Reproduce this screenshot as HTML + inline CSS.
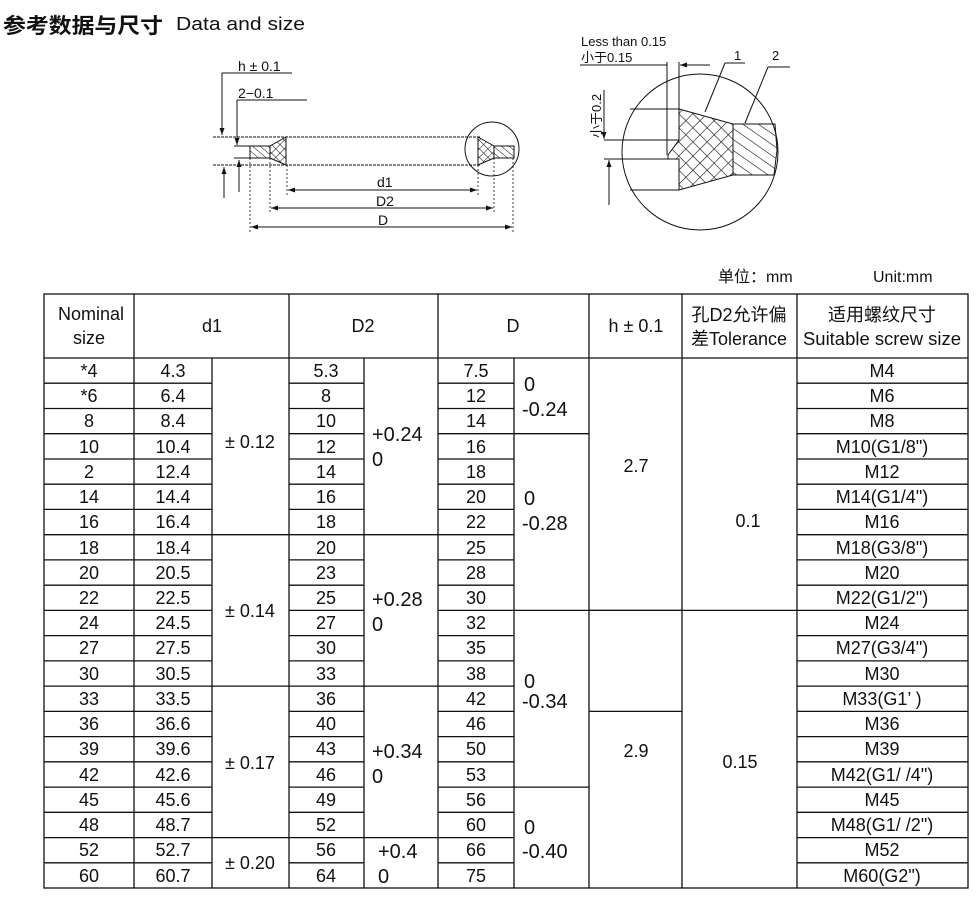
<!DOCTYPE html>
<html><head><meta charset="utf-8"><style>
body{margin:0;background:#fff}
svg{display:block}
text{font-family:"Liberation Sans","Noto Sans CJK SC",sans-serif;fill:#111}
</style></head><body>
<svg width="980" height="904" viewBox="0 0 980 904" xmlns="http://www.w3.org/2000/svg">
<defs>
<pattern id="hat" width="5" height="5" patternUnits="userSpaceOnUse" patternTransform="rotate(-50)"><line x1="0" y1="0" x2="0" y2="5" stroke="#111" stroke-width="1"/></pattern>
<pattern id="xh" width="6" height="6" patternUnits="userSpaceOnUse" patternTransform="rotate(45)"><path d="M0 0H6M0 0V6" stroke="#111" stroke-width="1" fill="none"/></pattern>
<pattern id="hat2" width="9" height="9" patternUnits="userSpaceOnUse" patternTransform="rotate(-55)"><line x1="0" y1="0" x2="0" y2="9" stroke="#111" stroke-width="1.2"/></pattern>
<pattern id="xh2" width="10" height="10" patternUnits="userSpaceOnUse" patternTransform="rotate(45)"><path d="M0 0H10M0 0V10" stroke="#111" stroke-width="1.2" fill="none"/></pattern>
<marker id="ar" markerWidth="8" markerHeight="8" refX="7" refY="4" orient="auto" markerUnits="userSpaceOnUse"><path d="M0 1.5L7 4L0 6.5z" fill="#111"/></marker>
</defs>

<text x="3" y="33" font-size="21" font-weight="bold" textLength="160" lengthAdjust="spacingAndGlyphs">参考数据与尺寸</text>
<text x="176" y="30" font-size="18" textLength="129" lengthAdjust="spacingAndGlyphs">Data and size</text>

<!-- left drawing -->
<g stroke="#111" stroke-width="1" fill="none">
<line x1="222" y1="73" x2="292" y2="73"/>
<line x1="222" y1="73" x2="222" y2="135" marker-end="url(#ar)"/>
<line x1="237" y1="100" x2="307" y2="100"/>
<line x1="237" y1="100" x2="237" y2="145" marker-end="url(#ar)"/>
<line x1="213" y1="137" x2="480" y2="137" stroke-dasharray="3 1"/>
<line x1="213" y1="165" x2="480" y2="165" stroke-dasharray="3 1"/>
<line x1="234" y1="146" x2="250" y2="146"/>
<line x1="234" y1="158" x2="250" y2="158"/>
<line x1="224" y1="198" x2="224" y2="167" marker-end="url(#ar)"/>
<line x1="239" y1="192" x2="239" y2="160" marker-end="url(#ar)"/>
<circle cx="492" cy="149" r="27"/>
</g>
<rect x="250" y="146" width="20" height="12" fill="url(#hat)" stroke="#111"/>
<path d="M270 146L286 137V165L270 158Z" fill="url(#xh)" stroke="#111"/>
<path d="M478 137L494 146V158L478 165Z" fill="url(#xh)" stroke="#111"/>
<rect x="494" y="146" width="20" height="12" fill="url(#hat)" stroke="#111"/>
<g stroke="#111" stroke-width="0.8" stroke-dasharray="2 2" fill="none">
<line x1="287" y1="165" x2="287" y2="195"/><line x1="478" y1="165" x2="478" y2="195"/>
<line x1="270" y1="158" x2="270" y2="213"/><line x1="494" y1="158" x2="494" y2="213"/>
<line x1="250" y1="158" x2="250" y2="232"/><line x1="513" y1="158" x2="513" y2="232"/>
</g>
<g stroke="#111" stroke-width="1" fill="none">
<line x1="300" y1="190" x2="288" y2="190" marker-end="url(#ar)"/><line x1="290" y1="190" x2="477" y2="190" marker-end="url(#ar)"/>
<line x1="290" y1="208" x2="271" y2="208" marker-end="url(#ar)"/><line x1="272" y1="208" x2="493" y2="208" marker-end="url(#ar)"/>
<line x1="270" y1="227" x2="251" y2="227" marker-end="url(#ar)"/><line x1="252" y1="227" x2="512" y2="227" marker-end="url(#ar)"/>
</g>
<text x="238" y="71" font-size="14">h ± 0.1</text>
<text x="238" y="98" font-size="14">2−0.1</text>
<text x="377" y="187" font-size="14">d1</text>
<text x="376" y="206" font-size="14">D2</text>
<text x="378" y="225" font-size="14">D</text>

<!-- right detail -->
<g stroke="#111" stroke-width="1" fill="none">
<circle cx="700" cy="152" r="78"/>
<line x1="580" y1="65" x2="667" y2="65"/>
<line x1="667" y1="62" x2="667" y2="155"/>
<line x1="679" y1="62" x2="679" y2="109"/>
<line x1="710" y1="65" x2="680" y2="65" marker-end="url(#ar)"/>
<line x1="660" y1="65" x2="666" y2="65"/>
<line x1="630" y1="109" x2="679" y2="109"/>
<line x1="604" y1="140" x2="679" y2="140"/>
<line x1="604" y1="159" x2="668" y2="159"/>
<line x1="630" y1="190" x2="679" y2="190"/>
<line x1="604" y1="90" x2="604" y2="139" marker-end="url(#ar)"/>
<line x1="609" y1="205" x2="609" y2="160" marker-end="url(#ar)"/>
<line x1="725" y1="63" x2="745" y2="63"/><line x1="725" y1="63" x2="705" y2="112"/>
<line x1="768" y1="67" x2="790" y2="67"/><line x1="768" y1="67" x2="745" y2="123"/>
</g>
<path d="M679 109L733 124V175L679 190V159H668V155L679 140Z" fill="url(#xh2)" stroke="#111"/>
<path d="M733 124H775L777 150L774 175H733Z" fill="url(#hat2)" stroke="#111"/>
<text x="581" y="46" font-size="13">Less than 0.15</text>
<text x="581" y="62" font-size="13">小于0.15</text>
<text x="734" y="60" font-size="13">1</text>
<text x="772" y="60" font-size="13">2</text>
<text transform="translate(601,138) rotate(-90)" font-size="13">小于0.2</text>

<text x="718" y="282" font-size="16">单位：mm</text>
<text x="873" y="282" font-size="16">Unit:mm</text>

<!-- table -->
<g stroke="#111" stroke-width="1.3" fill="none">
<rect x="44" y="294" width="924" height="594"/>
<line x1="44" y1="358" x2="968" y2="358"/>
<line x1="134" y1="294" x2="134" y2="888"/>
<line x1="289" y1="294" x2="289" y2="888"/>
<line x1="438" y1="294" x2="438" y2="888"/>
<line x1="589" y1="294" x2="589" y2="888"/>
<line x1="682" y1="294" x2="682" y2="888"/>
<line x1="797" y1="294" x2="797" y2="888"/>
<line x1="212" y1="358" x2="212" y2="888"/>
<line x1="364" y1="358" x2="364" y2="888"/>
<line x1="514" y1="358" x2="514" y2="888"/>
<path d="M44 383.2H212M44 408.5H212M44 433.7H212M44 459H212M44 484.2H212M44 509.4H212M44 534.7H289M44 559.9H212M44 585.2H212M44 610.4H212M44 635.6H212M44 660.9H212M44 686.1H289M44 711.4H212M44 736.6H212M44 761.8H212M44 787.1H212M44 812.3H212M44 837.6H289M44 862.8H212"/>
<path d="M289 383.2H364M289 408.5H364M289 433.7H364M289 459H364M289 484.2H364M289 509.4H364M289 534.7H438M289 559.9H364M289 585.2H364M289 610.4H364M289 635.6H364M289 660.9H364M289 686.1H438M289 711.4H364M289 736.6H364M289 761.8H364M289 787.1H364M289 812.3H364M289 837.6H438M289 862.8H364"/>
<path d="M438 383.2H514M438 408.5H514M438 433.7H589M438 459H514M438 484.2H514M438 509.4H514M438 534.7H514M438 559.9H514M438 585.2H514M438 610.4H682M438 635.6H514M438 660.9H514M438 686.1H514M438 711.4H514M438 736.6H514M438 761.8H514M438 787.1H589M438 812.3H514M438 837.6H514M438 862.8H514"/>
<path d="M589 610.4H797M589 711.4H682"/>
<path d="M797 383.2H968M797 408.5H968M797 433.7H968M797 459H968M797 484.2H968M797 509.4H968M797 534.7H968M797 559.9H968M797 585.2H968M797 610.4H968M797 635.6H968M797 660.9H968M797 686.1H968M797 711.4H968M797 736.6H968M797 761.8H968M797 787.1H968M797 812.3H968M797 837.6H968M797 862.8H968"/>
</g>

<g font-size="18" text-anchor="middle">
<text x="91" y="320">Nominal</text><text x="89" y="344">size</text>
<text x="212" y="332">d1</text>
<text x="363" y="332">D2</text>
<text x="513" y="332">D</text>
<text x="636" y="332">h ± 0.1</text>
<text x="739" y="321">孔D2允许偏</text><text x="739" y="345">差Tolerance</text>
<text x="882" y="321">适用螺纹尺寸</text><text x="882" y="345" textLength="158" lengthAdjust="spacingAndGlyphs">Suitable screw size</text>
</g>

<g font-size="18" text-anchor="middle">
<text x="89" y="377">*4</text><text x="173" y="377">4.3</text><text x="326" y="377">5.3</text><text x="476" y="377">7.5</text><text x="882" y="377">M4</text>
<text x="89" y="402">*6</text><text x="173" y="402">6.4</text><text x="326" y="402">8</text><text x="476" y="402">12</text><text x="882" y="402">M6</text>
<text x="89" y="427">8</text><text x="173" y="427">8.4</text><text x="326" y="427">10</text><text x="476" y="427">14</text><text x="882" y="427">M8</text>
<text x="89" y="453">10</text><text x="173" y="453">10.4</text><text x="326" y="453">12</text><text x="476" y="453">16</text><text x="882" y="453">M10(G1/8")</text>
<text x="89" y="478">2</text><text x="173" y="478">12.4</text><text x="326" y="478">14</text><text x="476" y="478">18</text><text x="882" y="478">M12</text>
<text x="89" y="503">14</text><text x="173" y="503">14.4</text><text x="326" y="503">16</text><text x="476" y="503">20</text><text x="882" y="503">M14(G1/4")</text>
<text x="89" y="528">16</text><text x="173" y="528">16.4</text><text x="326" y="528">18</text><text x="476" y="528">22</text><text x="882" y="528">M16</text>
<text x="89" y="554">18</text><text x="173" y="554">18.4</text><text x="326" y="554">20</text><text x="476" y="554">25</text><text x="882" y="554">M18(G3/8")</text>
<text x="89" y="579">20</text><text x="173" y="579">20.5</text><text x="326" y="579">23</text><text x="476" y="579">28</text><text x="882" y="579">M20</text>
<text x="89" y="604">22</text><text x="173" y="604">22.5</text><text x="326" y="604">25</text><text x="476" y="604">30</text><text x="882" y="604">M22(G1/2")</text>
<text x="89" y="629">24</text><text x="173" y="629">24.5</text><text x="326" y="629">27</text><text x="476" y="629">32</text><text x="882" y="629">M24</text>
<text x="89" y="654">27</text><text x="173" y="654">27.5</text><text x="326" y="654">30</text><text x="476" y="654">35</text><text x="882" y="654">M27(G3/4")</text>
<text x="89" y="680">30</text><text x="173" y="680">30.5</text><text x="326" y="680">33</text><text x="476" y="680">38</text><text x="882" y="680">M30</text>
<text x="89" y="705">33</text><text x="173" y="705">33.5</text><text x="326" y="705">36</text><text x="476" y="705">42</text><text x="882" y="705">M33(G1’ )</text>
<text x="89" y="730">36</text><text x="173" y="730">36.6</text><text x="326" y="730">40</text><text x="476" y="730">46</text><text x="882" y="730">M36</text>
<text x="89" y="755">39</text><text x="173" y="755">39.6</text><text x="326" y="755">43</text><text x="476" y="755">50</text><text x="882" y="755">M39</text>
<text x="89" y="781">42</text><text x="173" y="781">42.6</text><text x="326" y="781">46</text><text x="476" y="781">53</text><text x="882" y="781">M42(G1/  /4")</text>
<text x="89" y="806">45</text><text x="173" y="806">45.6</text><text x="326" y="806">49</text><text x="476" y="806">56</text><text x="882" y="806">M45</text>
<text x="89" y="831">48</text><text x="173" y="831">48.7</text><text x="326" y="831">52</text><text x="476" y="831">60</text><text x="882" y="831">M48(G1/  /2")</text>
<text x="89" y="856">52</text><text x="173" y="856">52.7</text><text x="326" y="856">56</text><text x="476" y="856">66</text><text x="882" y="856">M52</text>
<text x="89" y="882">60</text><text x="173" y="882">60.7</text><text x="326" y="882">64</text><text x="476" y="882">75</text><text x="882" y="882">M60(G2")</text>
</g>

<g font-size="18" text-anchor="middle">
<text x="250" y="448">± 0.12</text>
<text x="250" y="617">± 0.14</text>
<text x="250" y="769">± 0.17</text>
<text x="250" y="869">± 0.20</text>
<text x="636" y="472">2.7</text>
<text x="636" y="757">2.9</text>
<text x="748" y="527">0.1</text>
<text x="740" y="768">0.15</text>
</g>
<g font-size="20">
<text x="372" y="441">+0.24</text><text x="372" y="466">0</text>
<text x="372" y="606">+0.28</text><text x="372" y="631">0</text>
<text x="372" y="758">+0.34</text><text x="372" y="783">0</text>
<text x="378" y="858">+0.4</text><text x="378" y="883">0</text>
<text x="524" y="391">0</text><text x="522" y="416">-0.24</text>
<text x="524" y="505">0</text><text x="522" y="530">-0.28</text>
<text x="524" y="688">0</text><text x="522" y="708">-0.34</text>
<text x="524" y="834">0</text><text x="522" y="858">-0.40</text>
</g>
</svg>
</body></html>
